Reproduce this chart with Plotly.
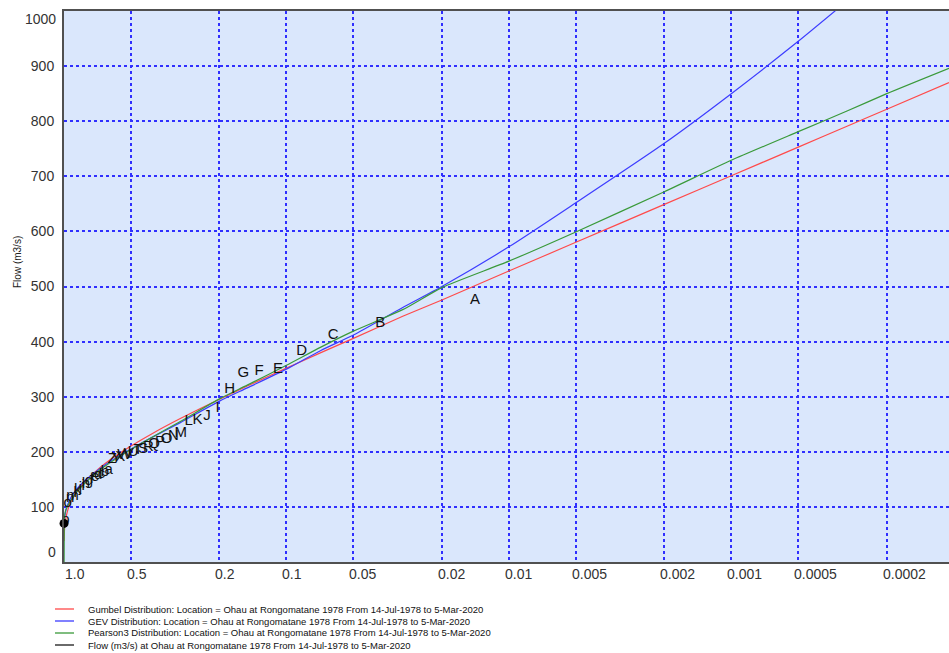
import math
import plotly.graph_objects as go

# ---------------- data ----------------
# exceedance probabilities at which the fitted curves were read
P_CURVE = [0.999, 0.995, 0.99, 0.98, 0.95, 0.9, 0.85, 0.8, 0.7, 0.6, 0.5, 0.4,
           0.3, 0.2, 0.15, 0.1, 0.07, 0.05, 0.03, 0.02, 0.01, 0.005, 0.002,
           0.001, 0.0005, 0.0003, 0.0002, 0.000105]
GUMBEL = [38, 58, 68.5, 80.7, 100.7, 120.4, 135, 147.3, 169, 189.5, 210.5, 233.4,
          260.3, 295.5, 319.3, 351.8, 380, 405.8, 446, 475.6, 528, 580.2, 649,
          701, 753, 791.4, 821.8, 870]
GEV = [62, 77, 85, 94.4, 110, 126.4, 138.4, 148.8, 167.6, 185.9, 205, 226.6,
       253, 292, 316, 350, 384, 412, 462, 500, 572, 652, 760, 850, 945, 1019,
       None, None]
PEARSON3 = [0, 80, 88, 95, 106, 121, 133, 144, 165, 184, 204, 227, 255, 296, 321,
            357, 390, 419, 458, 498, 546, 599, 672, 729, 781, 819, 850, 896]

# observed annual maxima (plotting position, flow, label)
P_OBS = [0.0142, 0.0379, 0.0616, 0.0853, 0.1090, 0.1327, 0.1564, 0.1801, 0.2038,
         0.2275, 0.2512, 0.2749, 0.2986, 0.3223, 0.3460, 0.3697, 0.3934, 0.4171,
         0.4408, 0.4645, 0.4882, 0.5118, 0.5355, 0.5592, 0.5829, 0.6066, 0.6303,
         0.6540, 0.6777, 0.7014, 0.7251, 0.7488, 0.7725, 0.7962, 0.8199, 0.8436,
         0.8673, 0.8910, 0.9147, 0.9384, 0.9621, 0.9858]
FLOW_OBS = [475, 433, 412, 382, 350, 346, 343, 313, 279, 265, 258, 255, 234, 229,
            223, 218, 213, 209, 205, 202, 199, 196, 193, 191, 189, 187, 166, 163,
            160, 157, 153, 150, 146, 142, 138, 134, 130, 125, 120, 115, 107, 76]
LABELS_OBS = list("ABCDEFGHIJKLMNOPQRSTUVWXYZabcdefghijklmnop")
P_DOT = [0.9995]
FLOW_DOT = [70]

X_TICKS = [1.0, 0.5, 0.2, 0.1, 0.05, 0.02, 0.01, 0.005, 0.002, 0.001, 0.0005, 0.0002]
X_TICK_TEXT = ["1.0", "0.5", "0.2", "0.1", "0.05", "0.02", "0.01", "0.005",
               "0.002", "0.001", "0.0005", "0.0002"]
Y_TICKS = [0, 100, 200, 300, 400, 500, 600, 700, 800, 900, 1000]
X_MIN_P = 1.05e-4

LEGEND_NAMES = [
    "Gumbel Distribution: Location = Ohau at Rongomatane 1978 From 14-Jul-1978 to 5-Mar-2020",
    "GEV Distribution: Location = Ohau at Rongomatane 1978 From 14-Jul-1978 to 5-Mar-2020",
    "Pearson3 Distribution: Location = Ohau at Rongomatane 1978 From 14-Jul-1978 to 5-Mar-2020",
    "Flow (m3/s) at Ohau at Rongomatane 1978 From 14-Jul-1978 to 5-Mar-2020",
]
COLORS = ["#ff4a4a", "#3c3cff", "#3a9a3a", "#1a1a1a"]

# ---------------- figure ----------------
W, H = 949, 653
ML, MR, MT, MB = 64, 0, 11, 91
PW, PH = W - ML - MR, H - MT - MB

fig = go.Figure()
for name, vals, col in zip(LEGEND_NAMES[:3], [GUMBEL, GEV, PEARSON3], COLORS[:3]):
    fig.add_trace(go.Scatter(x=P_CURVE, y=vals, mode="lines", name=name,
                             line=dict(color=col, width=1.2, shape="spline",
                                       smoothing=0.6),
                             connectgaps=False, showlegend=False))

fig.add_trace(go.Scatter(x=P_OBS, y=FLOW_OBS, mode="text", text=LABELS_OBS,
                         textposition="middle center", name=LEGEND_NAMES[3],
                         textfont=dict(family="Arial", size=15, color="#111111"),
                         showlegend=False))
fig.add_trace(go.Scatter(x=P_DOT, y=FLOW_DOT, mode="markers",
                         marker=dict(color="#000000", size=9), showlegend=False,
                         cliponaxis=False))

annotations = []
# x tick labels (left aligned just before each grid line)
for v, t in zip(X_TICKS, X_TICK_TEXT):
    annotations.append(dict(x=math.log10(v), xref="x", y=0, yref="paper",
                            text=t, showarrow=False, xanchor="left", yanchor="middle",
                            xshift=(-1 if v == 1.0 else -6), yshift=-12,
                            font=dict(family="Arial", size=14, color="#333333")))
# end y labels kept inside the plot height
annotations.append(dict(x=0, xref="paper", y=1, yref="paper", text="1000",
                        showarrow=False, xanchor="right", yanchor="middle",
                        xshift=-6, yshift=-8,
                        font=dict(family="Arial", size=14, color="#333333")))
annotations.append(dict(x=0, xref="paper", y=0, yref="paper", text="0",
                        showarrow=False, xanchor="right", yanchor="middle",
                        xshift=-6, yshift=10,
                        font=dict(family="Arial", size=14, color="#333333")))
# y axis title
annotations.append(dict(x=(17 - ML) / PW, xref="paper", y=(MT + PH - 262) / PH,
                        yref="paper", text="Flow (m3/s)", textangle=-90,
                        showarrow=False, xanchor="center", yanchor="middle",
                        font=dict(family="Arial", size=10, color="#222222")))

# manual legend
shapes = []
leg_rows = [609, 621, 633, 645]
for name, col, py in zip(LEGEND_NAMES, COLORS, leg_rows):
    yp = (MT + PH - py) / PH
    shapes.append(dict(type="line", xref="paper", yref="paper",
                       x0=(55 - ML) / PW, x1=(74 - ML) / PW, y0=yp, y1=yp,
                       line=dict(color=col, width=1.3)))
    annotations.append(dict(x=(86 - ML) / PW, xref="paper", y=yp, yref="paper",
                            text=name, showarrow=False, xanchor="left",
                            yanchor="middle",
                            font=dict(family="Arial", size=9.5, color="#111111")))

GRID = dict(showgrid=True, gridcolor="#2f2fff", gridwidth=1.6, griddash="dot")

fig.update_layout(
    width=W, height=H,
    margin=dict(l=ML, r=MR, t=MT, b=MB, pad=0),
    paper_bgcolor="white", plot_bgcolor="#dae7fc",
    showlegend=False,
    annotations=annotations, shapes=shapes,
    xaxis=dict(type="log", range=[0, math.log10(X_MIN_P)],
               tickvals=X_TICKS, showticklabels=False, ticks="",
               showline=True, linecolor="#505050", linewidth=2, mirror=True,
               zeroline=False, **GRID),
    yaxis=dict(range=[0, 1000], tickvals=Y_TICKS,
               ticktext=[""] + [str(v) for v in Y_TICKS[1:-1]] + [""],
               ticks="", ticklabelstandoff=5,
               tickfont=dict(family="Arial", size=14, color="#333333"),
               showline=True, linecolor="#505050", linewidth=2, mirror=False,
               zeroline=False, **GRID),
)

fig.write_html(
    "out.html",
    config={"displayModeBar": False},
    post_script="document.body.style.margin='0px';"
                "document.documentElement.style.overflow='hidden';",
)
